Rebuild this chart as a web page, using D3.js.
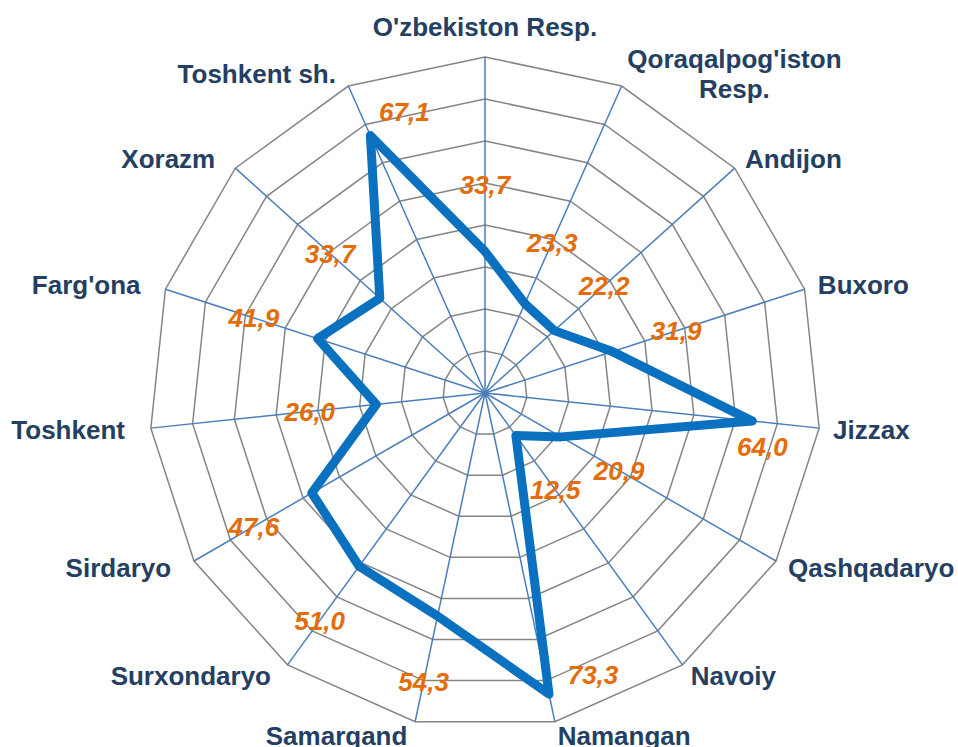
<!DOCTYPE html>
<html>
<head>
<meta charset="utf-8">
<script src="https://cdn.jsdelivr.net/npm/d3@7"></script>
<style>
  html, body { margin: 0; padding: 0; background: #ffffff; }
  svg { display: block; }
</style>
</head>
<body>
<svg id="chart" width="958" height="747"></svg>
<script>
// Regions, clockwise from the top
const categories = [
  "O'zbekiston Resp.", "Qoraqalpog'iston Resp.", "Andijon", "Buxoro", "Jizzax",
  "Qashqadaryo", "Navoiy", "Namangan", "Samarqand", "Surxondaryo",
  "Sirdaryo", "Toshkent", "Farg'ona", "Xorazm", "Toshkent sh."
];
const values = [33.7, 23.3, 22.2, 31.9, 64.0, 20.9, 12.5, 73.3, 54.3, 51.0, 47.6, 26.0, 41.9, 33.7, 67.1];
const ringTicks = [10, 20, 30, 40, 50, 60, 70, 80];

// Value labels that sit beside their point instead of further out along the spoke
const labelShift = {
  "Jizzax": [10, 26],
  "Namangan": [44, -19],
  "Toshkent sh.": [34, -24]
};

const cx = 485, cy = 393, outerR = 336;
const fontFamily = "'Liberation Sans', Arial, Helvetica, sans-serif";
const catSize = 26, valSize = 26;

const svg = d3.select("#chart");
const g = svg.append("g").attr("transform", `translate(${cx},${cy})`);

const r = d3.scaleLinear().domain([0, d3.max(ringTicks)]).range([0, outerR]);
const angle = d3.scaleLinear().domain([0, categories.length]).range([0, 2 * Math.PI]);
const polar = (i, rad) => [rad * Math.sin(angle(i)), -rad * Math.cos(angle(i))];

const locale = d3.formatLocale({ decimal: ",", thousands: " ", grouping: [3], currency: ["", ""] });
const fmt = locale.format(".1f");

// Grid rings
const ringLine = t => d3.lineRadial()
  .angle((d, i) => angle(i))
  .radius(r(t))
  .curve(d3.curveLinearClosed)(categories);

g.append("g").selectAll("path")
  .data(ringTicks)
  .join("path")
  .attr("d", ringLine)
  .attr("fill", "none")
  .attr("stroke", "#858585")
  .attr("stroke-width", 1.5);

// Spokes
g.append("g").selectAll("line")
  .data(categories)
  .join("line")
  .attr("x1", 0).attr("y1", 0)
  .attr("x2", (d, i) => polar(i, r(d3.max(ringTicks)))[0])
  .attr("y2", (d, i) => polar(i, r(d3.max(ringTicks)))[1])
  .attr("stroke", "#4A7EBB")
  .attr("stroke-width", 1.5);

// Series line
const seriesLine = d3.lineRadial()
  .angle((d, i) => angle(i))
  .radius(d => r(d))
  .curve(d3.curveLinearClosed);

g.append("path")
  .datum(values)
  .attr("d", seriesLine)
  .attr("fill", "none")
  .attr("stroke", "#0A70C0")
  .attr("stroke-width", 9)
  .attr("stroke-linejoin", "round");

// Category labels
const catG = g.append("g")
  .attr("font-family", fontFamily)
  .attr("font-weight", "bold")
  .attr("font-size", catSize)
  .attr("fill", "#243F61");

const lineH = 30;
categories.forEach((name, i) => {
  const [vx, vy] = polar(i, r(d3.max(ringTicks)));
  const s = Math.sin(angle(i)), c = Math.cos(angle(i));
  const t = catG.append("text");
  // wrap long names onto two lines
  t.text(name);
  let lines = [name];
  if (t.node().getComputedTextLength() > 250 && name.includes(" ")) {
    const k = name.lastIndexOf(" ");
    lines = [name.slice(0, k), name.slice(k + 1)];
  }
  t.remove();

  let anchor, x, capMid;
  if (Math.abs(s) < 0.05) {
    anchor = "middle"; x = vx;
    capMid = vy + (c > 0 ? -30 : 30);
  } else if (s > 0) {
    anchor = "start"; x = vx + 14 * s;
    capMid = vy - 14 * c;
  } else {
    anchor = "end"; x = vx - (23 * Math.abs(s) + 3);
    capMid = vy - 14 * c;
  }
  const firstBase = capMid - (lines.length - 1) * lineH / 2 + 0.358 * catSize;

  const texts = lines.map((ln, j) => catG.append("text")
    .attr("y", firstBase + j * lineH)
    .attr("text-anchor", "middle")
    .text(ln));
  const widths = texts.map(tx => tx.node().getComputedTextLength());
  const blockW = d3.max(widths);
  const left = anchor === "start" ? x : anchor === "end" ? x - blockW : x - blockW / 2;
  texts.forEach(tx => tx.attr("x", left + blockW / 2));
});

// Value labels
g.append("g")
  .attr("font-family", fontFamily)
  .attr("font-weight", "bold")
  .attr("font-style", "italic")
  .attr("font-size", valSize)
  .attr("fill", "#E46C0A")
  .attr("text-anchor", "middle")
  .selectAll("text")
  .data(values)
  .join("text")
  .each(function (v, i) {
    const name = categories[i];
    let p;
    if (labelShift[name]) {
      const base = polar(i, r(v));
      p = [base[0] + labelShift[name][0], base[1] + labelShift[name][1]];
    } else {
      p = polar(i, r(v) + 67);
    }
    d3.select(this)
      .attr("x", p[0])
      .attr("y", p[1] + 0.358 * valSize)
      .text(fmt(v));
  });
</script>
</body>
</html>
